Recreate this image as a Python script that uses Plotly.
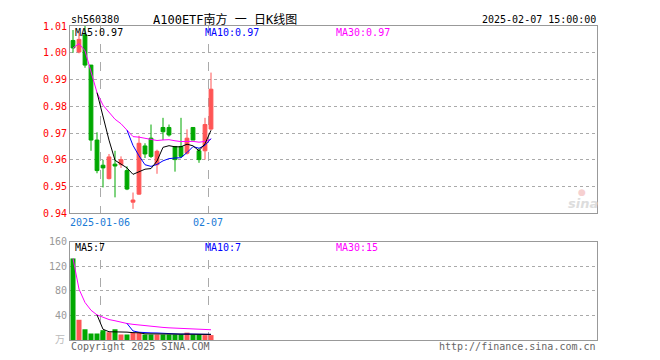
import plotly.graph_objects as go
import pandas as pd

# ---------------- data ----------------
dates = ["2024-12-27", "2024-12-30", "2024-12-31", "2025-01-02", "2025-01-03",
         "2025-01-06", "2025-01-07", "2025-01-08", "2025-01-09", "2025-01-10",
         "2025-01-13", "2025-01-14", "2025-01-15", "2025-01-16", "2025-01-17",
         "2025-01-20", "2025-01-21", "2025-01-22", "2025-01-23", "2025-01-24",
         "2025-01-27", "2025-02-05", "2025-02-06", "2025-02-07"]
open_ = [1.0046, 1.0003, 1.0067, 0.9954, 0.9674, 0.9580, 0.9530, 0.9584, 0.9582, 0.9560,
         0.9442, 0.9472, 0.9652, 0.9681, 0.9582, 0.9721, 0.9721, 0.9650, 0.9650, 0.9625,
         0.9721, 0.9634, 0.9634, 0.9715]
high = [1.0085, 1.0075, 1.0100, 0.9954, 0.9703, 0.9600, 0.9622, 0.9634, 0.9613, 0.9576,
        0.9478, 0.9690, 0.9662, 0.9732, 0.9638, 0.9757, 0.9732, 0.9650, 0.9757, 0.9714,
        0.9721, 0.9644, 0.9757, 0.9926]
low = [1.0000, 0.9998, 0.9944, 0.9634, 0.9550, 0.9497, 0.9527, 0.9460, 0.9570, 0.9487,
       0.9417, 0.9470, 0.9607, 0.9607, 0.9548, 0.9674, 0.9687, 0.9556, 0.9607, 0.9620,
       0.9674, 0.9589, 0.9601, 0.9711]
close = [1.0018, 1.0050, 0.9954, 0.9674, 0.9560, 0.9570, 0.9611, 0.9577, 0.9601, 0.9491,
         0.9450, 0.9662, 0.9622, 0.9613, 0.9632, 0.9705, 0.9693, 0.9601, 0.9613, 0.9681,
         0.9674, 0.9601, 0.9732, 0.9864]
volume = [133, 33, 17.5, 10.6, 10.6, 16, 12.7, 17.5, 9, 9,
          11.7, 11.7, 9, 9, 9, 9, 9, 9, 9, 12,
          9, 9, 8, 8]  # 万

price_ticks = [0.94, 0.95, 0.96, 0.97, 0.98, 0.99, 1.00, 1.01]
vol_ticks = [40, 80, 120, 160]
date_tick_pos = [5, 23]
date_tick_text = ["2025-01-06", "02-07"]
price_ma_labels = ["MA5:0.97", "MA10:0.97", "MA30:0.97"]
vol_ma_labels = ["MA5:7", "MA10:7", "MA30:15"]

# ---------------- derived ----------------
idx = list(range(len(dates)))
c = pd.Series(close)
v = pd.Series(volume)
ma5 = c.rolling(5).mean()
ma10 = c.rolling(10).mean()
ma30 = c.expanding().mean()
vma5 = v.rolling(5).mean()
vma10 = v.rolling(10).mean()
vma30 = v.expanding().mean()

RED = "#ff5555"
GREEN = "#00a800"
MONO = "DejaVu Sans Mono, Liberation Mono, monospace"
TITLEF = "DejaVu Sans Mono, Noto Sans CJK SC, monospace"

vcolors = [RED if cl >= op else GREEN for op, cl in zip(open_, close)]

# layout geometry (page pixels); page body has an 8px margin
OFF = 8
W, H = 660 - OFF, 360 - OFF
L, R, T, B = 70, 597, 20, 340


def px(x):
    return (x - L) / (R - L)


def py(y):
    return (B - y) / (B - T)


fig = go.Figure()

fig.add_trace(go.Candlestick(
    x=idx, open=open_, high=high, low=low, close=close,
    increasing=dict(line=dict(color=RED, width=1), fillcolor=RED),
    decreasing=dict(line=dict(color=GREEN, width=1), fillcolor=GREEN),
    whiskerwidth=0, xaxis="x", yaxis="y", hoverinfo="skip"))

for s, col in [(ma30, "#ff00ff"), (ma10, "#0000ff"), (ma5, "#000000")]:
    fig.add_trace(go.Scatter(x=idx, y=s, mode="lines", line=dict(color=col, width=1),
                             xaxis="x", yaxis="y", hoverinfo="skip"))

fig.add_trace(go.Bar(x=idx, y=volume, marker=dict(color=vcolors, line=dict(width=0)),
                     width=0.84, xaxis="x2", yaxis="y2", hoverinfo="skip"))
for s, col in [(vma30, "#ff00ff"), (vma10, "#0000ff"), (vma5, "#000000")]:
    fig.add_trace(go.Scatter(x=idx, y=s, mode="lines", line=dict(color=col, width=1),
                             xaxis="x2", yaxis="y2", hoverinfo="skip"))

xr = [-0.5, -0.5 + (R - L) / 6.0]
grid_x = [p - 0.5 for p in date_tick_pos]

common_x = dict(range=xr, showgrid=True, gridcolor="#aaaaaa", griddash="dash", gridwidth=1,
                showline=True, mirror=True, linecolor="#999999", linewidth=1,
                zeroline=False, ticks="", fixedrange=True)

fig.update_layout(
    width=W, height=H,
    margin=dict(l=L - OFF, r=660 - R, t=T - OFF, b=360 - B),
    paper_bgcolor="white", plot_bgcolor="white",
    showlegend=False, boxgap=0.1,
    xaxis=dict(**common_x, anchor="y", domain=[0, 1],
               tickvals=grid_x, ticktext=date_tick_text,
               tickfont=dict(family=MONO, size=10, color="#1a7ad6"),
               rangeslider=dict(visible=False)),
    yaxis=dict(domain=[py(211), 1], anchor="x", range=[0.94, 1.01],
               tickvals=price_ticks, ticktext=["%.2f" % t for t in price_ticks],
               tickfont=dict(family=MONO, size=10, color="#ff0000"),
               showgrid=True, gridcolor="#aaaaaa", griddash="dot", gridwidth=1,
               showline=True, mirror=True, linecolor="#999999", linewidth=1,
               zeroline=False, ticks=""),
    xaxis2=dict(**common_x, anchor="y2", domain=[0, 1],
                tickvals=grid_x, showticklabels=False),
    yaxis2=dict(domain=[0, py(240)], anchor="x2", range=[0, 160],
                tickvals=vol_ticks, ticktext=[str(t) for t in vol_ticks],
                tickfont=dict(family=MONO, size=10, color="#999999"),
                showgrid=True, gridcolor="#aaaaaa", griddash="dot", gridwidth=1,
                showline=True, mirror=True, linecolor="#999999", linewidth=1,
                zeroline=False, ticks=""),
)


def ann(text, x, y, color="#000000", size=10, xanchor="left", family=MONO, **kw):
    fig.add_annotation(text=text, x=px(x), y=py(y), xref="paper", yref="paper",
                       xanchor=xanchor, yanchor="middle", showarrow=False,
                       font=dict(family=family, size=size, color=color), **kw)


ann("sh560380", 69, 13)
ann("A100ETF南方 一 日K线图", 151, 13, size=12, family=TITLEF)
ann("2025-02-07 15:00:00", 598, 13, xanchor="right")

ma_cols = ["#000000", "#0000ff", "#ff00ff"]
ma_x = [73, 203, 334]
for t, col, x in zip(price_ma_labels, ma_cols, ma_x):
    ann(t, x, 27, color=col)
for t, col, x in zip(vol_ma_labels, ma_cols, ma_x):
    ann(t, x, 246, color=col)

ann("Copyright 2025 SINA.COM", 69, 347, color="#666666")
ann("http://finance.sina.com.cn", 598, 347, color="#666666", xanchor="right")
ann("万", 60, 339, color="#bbbbbb", size=10, xanchor="center", family=TITLEF)
ann("<b><i>sina</i></b>", 583, 201, color="#dddddd", size=13, xanchor="center",
    family="DejaVu Sans, sans-serif")
ann("●", 582, 189, color="#f6d0d0", size=9, xanchor="center", family="DejaVu Sans")

fig.write_html("out.html")
